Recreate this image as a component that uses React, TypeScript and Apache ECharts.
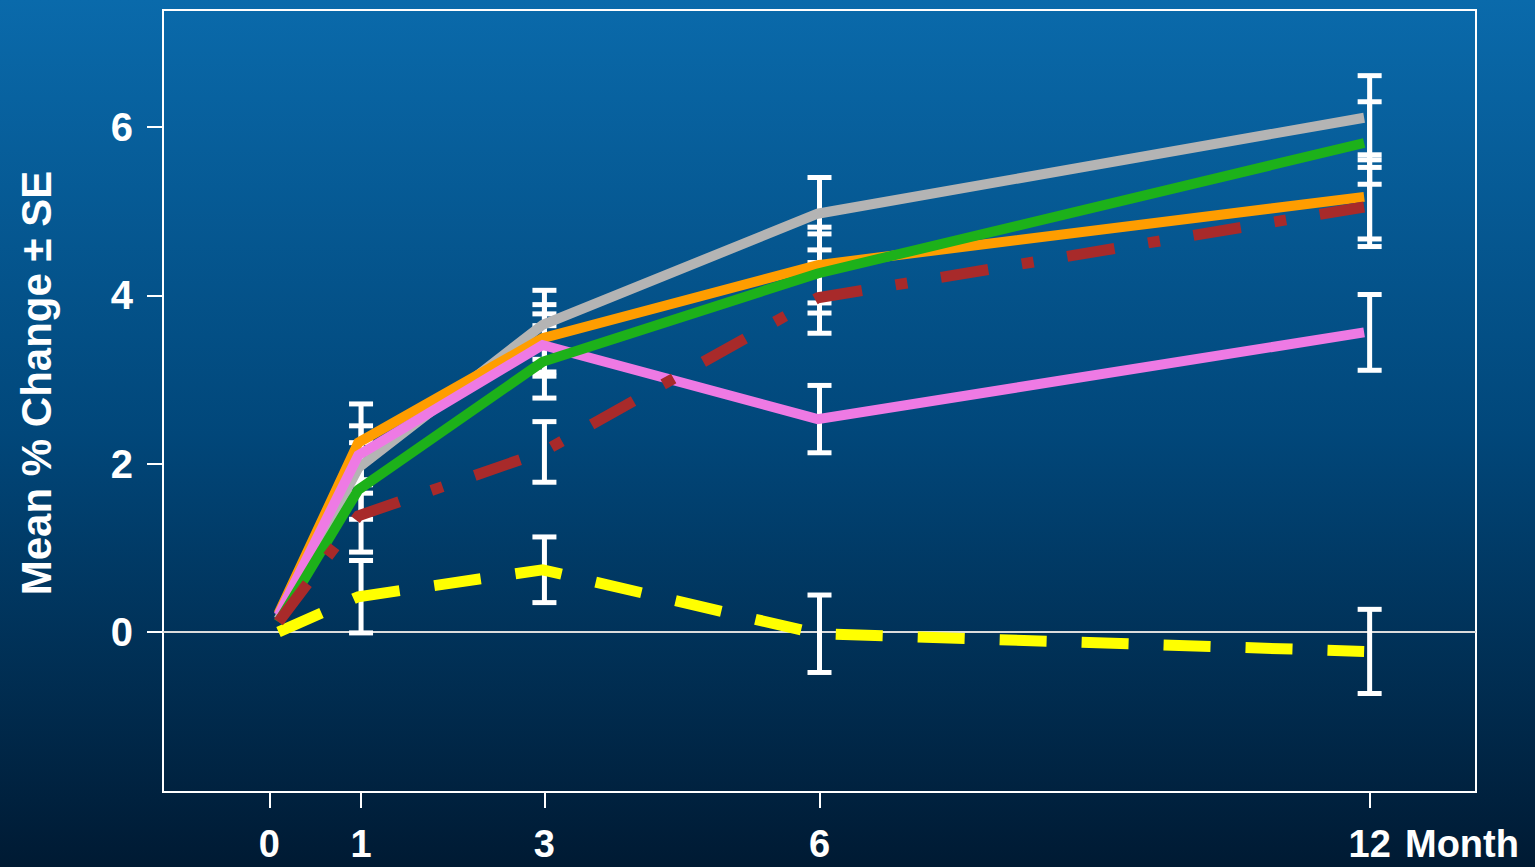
import { useEffect, useRef } from "react";
import * as echarts from "echarts";

// Follow-up visits (months)
const MONTHS = [0, 1, 3, 6, 12];
// Horizontal placement of each line's vertices (slightly nudged off the tick)
const LINE_X = [0.1, 0.97, 2.98, 5.98, 11.94];

// Mean % change per group
const GRAY_MEAN = [0.15, 1.95, 3.65, 4.97, 6.11];
const ORANGE_MEAN = [0.22, 2.25, 3.49, 4.36, 5.17];
const VIOLET_MEAN = [0.2, 2.1, 3.41, 2.53, 3.56];
const GREEN_MEAN = [0.12, 1.69, 3.21, 4.26, 5.81];
const BROWN_MEAN = [0.12, 1.38, 2.14, 3.97, 5.05];
const YELLOW_MEAN = [0.0, 0.42, 0.74, -0.02, -0.23];

// Standard errors (no bar at baseline)
const GRAY_SE = [null, 0.3, 0.41, 0.43, 0.5];
const ORANGE_SE = [null, 0.46, 0.4, 0.45, 0.5];
const VIOLET_SE = [null, 0.35, 0.37, 0.4, 0.45];
const GREEN_SE = [null, 0.35, 0.43, 0.47, 0.49];
const BROWN_SE = [null, 0.43, 0.36, 0.42, 0.47];
const YELLOW_SE = [null, 0.43, 0.39, 0.46, 0.5];

const X_TICKS = [0, 1, 3, 6, 12];
const Y_TICKS = [0, 2, 4, 6];

const FONT = '"Liberation Sans", Arial, Helvetica, sans-serif';

type Group = {
  name: string;
  mean: number[];
  se: (number | null)[];
  color: string;
  width: number;
  dash: number[] | "solid";
};

const GROUPS: Group[] = [
  { name: "yellow", mean: YELLOW_MEAN, se: YELLOW_SE, color: "#ffff00", width: 11, dash: [47, 35] },
  { name: "gray", mean: GRAY_MEAN, se: GRAY_SE, color: "#b4b4b4", width: 10, dash: "solid" },
  { name: "orange", mean: ORANGE_MEAN, se: ORANGE_SE, color: "#ff9d00", width: 10, dash: "solid" },
  { name: "violet", mean: VIOLET_MEAN, se: VIOLET_SE, color: "#ee7ae4", width: 10, dash: "solid" },
  { name: "green", mean: GREEN_MEAN, se: GREEN_SE, color: "#1db11a", width: 10, dash: "solid" },
  { name: "brown", mean: BROWN_MEAN, se: BROWN_SE, color: "#a82a2a", width: 11, dash: [48, 34, 12, 34] },
];

export default function App() {
  const ref = useRef<HTMLDivElement>(null);

  useEffect(() => {
    if (!ref.current) return;
    const chart = echarts.init(ref.current, null, { renderer: "svg" });

    const barData: number[][] = [];
    GROUPS.forEach((g) => {
      MONTHS.forEach((m, i) => {
        const se = g.se[i];
        if (se != null) barData.push([m, g.mean[i] - se, g.mean[i] + se]);
      });
    });

    const lineSeries = GROUPS.map((g) => ({
      name: g.name,
      type: "line",
      data: g.mean.map((v, i) => [LINE_X[i], v]),
      symbol: "none",
      silent: true,
      z: 3,
      lineStyle: {
        color: g.color,
        width: g.width,
        type: g.dash,
        cap: "butt",
        join: "miter",
      },
    }));

    const tickLabel = {
      color: "#ffffff",
      fontWeight: "bold",
      fontFamily: FONT,
      formatter: (v: number) => String(v),
    };

    const option: any = {
      animation: false,
      backgroundColor: {
        type: "linear",
        x: 0,
        y: 0,
        x2: 0,
        y2: 1,
        colorStops: [
          { offset: 0, color: "#0a6aab" },
          { offset: 0.5, color: "#01477a" },
          { offset: 1, color: "#001a33" },
        ],
      },
      grid: {
        left: 163,
        top: 10,
        right: 59,
        bottom: 75,
        outerBoundsMode: "none",
        containLabel: false,
        show: true,
        borderColor: "#ffffff",
        borderWidth: 2,
        backgroundColor: "transparent",
      },
      xAxis: {
        type: "value",
        min: -1.16,
        max: 13.16,
        axisLine: { show: false, onZero: false },
        splitLine: { show: false },
        axisTick: {
          show: true,
          customValues: X_TICKS,
          length: 16,
          inside: false,
          lineStyle: { color: "#ffffff", width: 2 },
        },
        axisLabel: {
          ...tickLabel,
          customValues: X_TICKS,
          fontSize: 38,
          lineHeight: 32,
          margin: 36,
        },
      },
      yAxis: {
        type: "value",
        min: -1.9,
        max: 7.39,
        axisLine: { show: false, onZero: false },
        splitLine: { show: false },
        axisTick: {
          show: true,
          customValues: Y_TICKS,
          length: 16,
          inside: false,
          lineStyle: { color: "#ffffff", width: 2 },
        },
        axisLabel: {
          ...tickLabel,
          customValues: Y_TICKS,
          fontSize: 40,
          lineHeight: 34,
          margin: 30,
        },
      },
      graphic: [
        {
          type: "text",
          x: 36,
          y: 383,
          rotation: Math.PI / 2,
          style: {
            text: "Mean % Change ± SE",
            fill: "#ffffff",
            font: `bold 42px ${FONT}`,
            align: "center",
            verticalAlign: "middle",
          },
        },
        {
          type: "text",
          x: 1405,
          y: 844,
          style: {
            text: "Month",
            fill: "#ffffff",
            font: `bold 38px ${FONT}`,
            lineHeight: 32,
            align: "left",
            verticalAlign: "middle",
          },
        },
      ],
      series: [
        {
          name: "zero",
          type: "line",
          data: [
            [-1.16, 0],
            [13.16, 0],
          ],
          symbol: "none",
          silent: true,
          z: 1,
          lineStyle: { color: "#dcdcdc", width: 2 },
        },
        {
          name: "se",
          type: "custom",
          silent: true,
          z: 2,
          encode: { x: 0, y: [1, 2] },
          data: barData,
          renderItem: (_params: any, api: any) => {
            const x = api.value(0);
            const lo = api.coord([x, api.value(1)]);
            const hi = api.coord([x, api.value(2)]);
            const hw = 12;
            const style = { stroke: "#ffffff", lineWidth: 5 };
            return {
              type: "group",
              children: [
                { type: "line", shape: { x1: lo[0], y1: lo[1], x2: hi[0], y2: hi[1] }, style },
                { type: "line", shape: { x1: lo[0] - hw, y1: lo[1], x2: lo[0] + hw, y2: lo[1] }, style },
                { type: "line", shape: { x1: hi[0] - hw, y1: hi[1], x2: hi[0] + hw, y2: hi[1] }, style },
              ],
            };
          },
        },
        ...lineSeries,
      ],
    };

    chart.setOption(option);
    return () => chart.dispose();
  }, []);

  return (
    <div
      ref={ref}
      style={{ position: "fixed", left: 0, top: 0, width: 1535, height: 867 }}
    />
  );
}
